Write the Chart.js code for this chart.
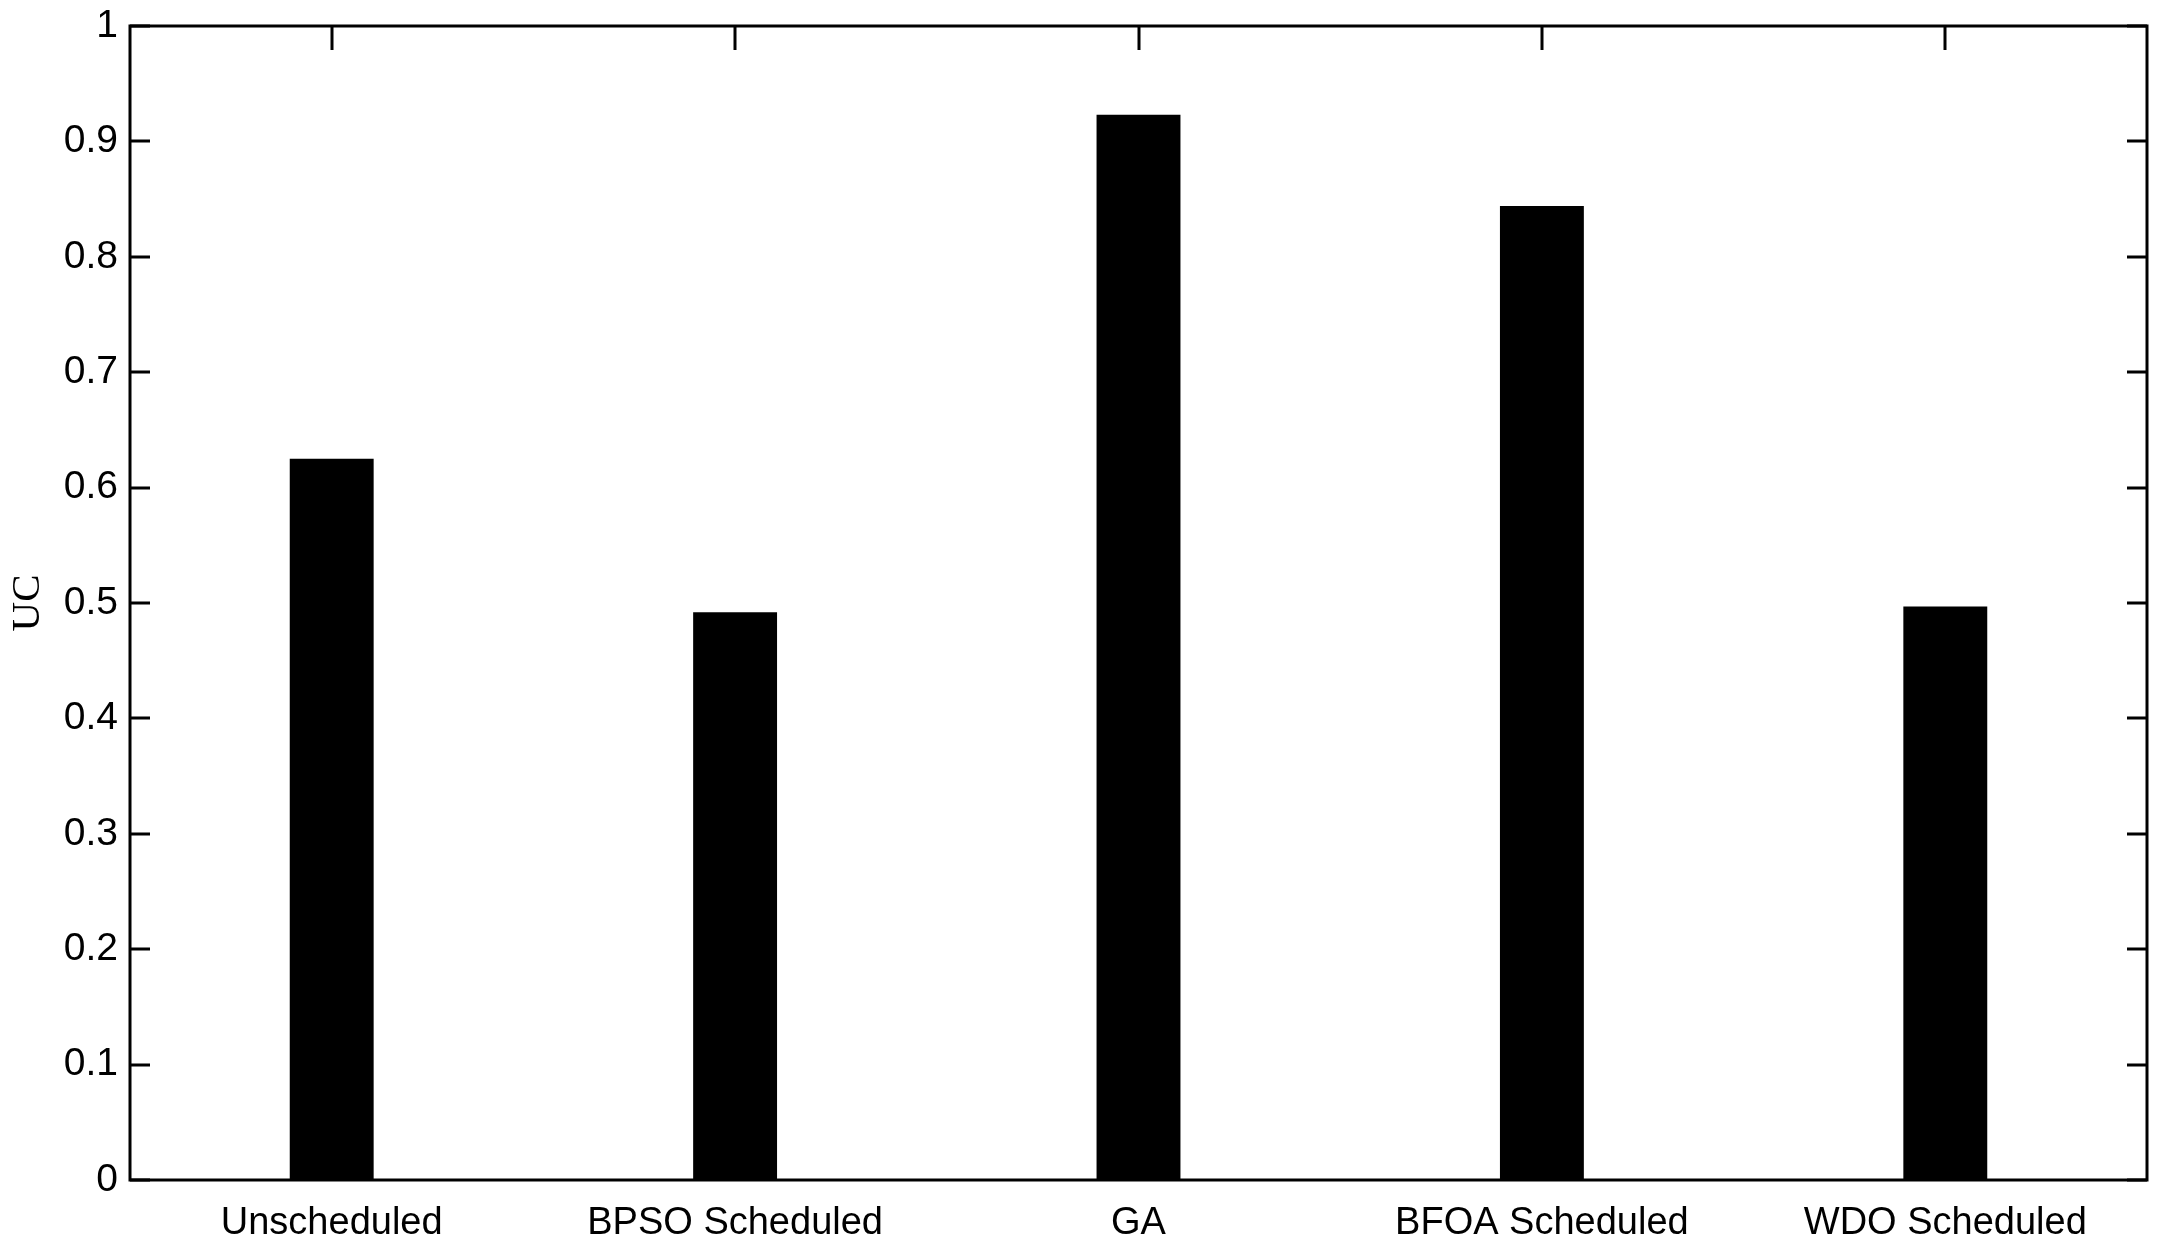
<!DOCTYPE html>
<html>
<head>
<meta charset="utf-8">
<script src="https://cdn.jsdelivr.net/npm/chart.js@4/dist/chart.umd.min.js"></script>
<style>
html,body{margin:0;padding:0;background:#fff;}
canvas{display:block;}
</style>
</head>
<body>
<canvas id="c" width="2169" height="1255"></canvas>
<script>
const categories = ['Unscheduled', 'BPSO Scheduled', 'GA', 'BFOA Scheduled', 'WDO Scheduled'];
const ucValues = [0.625, 0.492, 0.923, 0.844, 0.497];
const yTickLabels = ['0', '0.1', '0.2', '0.3', '0.4', '0.5', '0.6', '0.7', '0.8', '0.9', '1'];
const yAxisTitle = 'UC';

const tickFont = "'Liberation Sans', Arial, Helvetica, sans-serif";

const boxPlugin = {
  id: 'matlabBox',
  afterDraw(chart) {
    const {ctx, chartArea: a, scales} = chart;
    ctx.save();
    ctx.strokeStyle = '#000';
    ctx.lineWidth = 3;
    ctx.lineCap = 'square';
    ctx.strokeRect(a.left, a.top, a.right - a.left, a.bottom - a.top);
    ctx.lineCap = 'butt';
    const yS = scales.y, xS = scales.x;
    yS.ticks.forEach((t, i) => {
      const py = Math.round(yS.getPixelForTick(i));
      ctx.beginPath();
      ctx.moveTo(a.left, py); ctx.lineTo(a.left + 20, py);
      ctx.moveTo(a.right, py); ctx.lineTo(a.right - 20, py);
      ctx.stroke();
    });
    xS.ticks.forEach((t, i) => {
      const px = Math.round(xS.getPixelForTick(i));
      ctx.beginPath();
      ctx.moveTo(px, a.top); ctx.lineTo(px, a.top + 24);
      ctx.moveTo(px, a.bottom); ctx.lineTo(px, a.bottom - 24);
      ctx.stroke();
    });
    ctx.restore();
  }
};

new Chart(document.getElementById('c'), {
  type: 'bar',
  data: {
    labels: categories,
    datasets: [{
      data: ucValues,
      backgroundColor: '#000',
      borderWidth: 0,
      barPercentage: 0.208,
      categoryPercentage: 1.0
    }]
  },
  options: {
    responsive: false,
    animation: false,
    layout: { padding: { top: 26, right: 22, left: 0, bottom: 0 } },
    plugins: { legend: { display: false }, tooltip: { enabled: false } },
    scales: {
      x: {
        grid: { display: false, drawTicks: false },
        border: { display: false },
        ticks: {
          color: '#000',
          font: { family: tickFont, size: 38 },
          padding: 21,
          maxRotation: 0,
          autoSkip: false
        },
        afterFit(scale) { scale.height = 75; scale.paddingLeft = 0; scale.paddingRight = 0; }
      },
      y: {
        min: 0,
        max: 1,
        grid: { display: false, drawTicks: false },
        border: { display: false },
        ticks: {
          stepSize: 0.1,
          color: '#000',
          font: { family: tickFont, size: 39 },
          padding: 12,
          callback: (v, i) => yTickLabels[i]
        },
        title: {
          display: true,
          text: yAxisTitle,
          color: '#000',
          font: { family: "'Liberation Serif', 'Times New Roman', serif", size: 41 },
          padding: { top: 4, bottom: 0 }
        },
        afterFit(scale) { scale.width = 130; scale.paddingTop = 0; scale.paddingBottom = 0; }
      }
    }
  },
  plugins: [boxPlugin]
});
</script>
</body>
</html>
